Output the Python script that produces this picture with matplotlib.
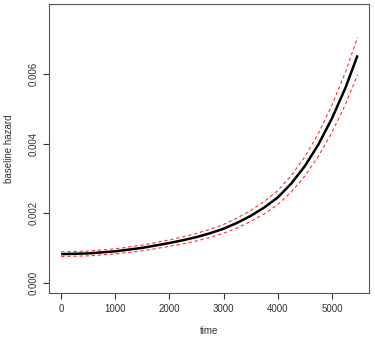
import numpy as np
import matplotlib
matplotlib.use("Agg")
from matplotlib import pyplot as plt

# baseline hazard estimate
time = [0, 250, 500, 750, 1000, 1250, 1500, 1750, 2000, 2250, 2500, 2750,
        3000, 3250, 3500, 3750, 4000, 4250, 4500, 4750, 5000, 5250, 5475]
hazard = [0.00082, 0.00083, 0.00084, 0.00087, 0.00090, 0.00095, 0.00100,
          0.00107, 0.00114, 0.00122, 0.00131, 0.00142, 0.00155, 0.00172,
          0.00192, 0.00216, 0.00245, 0.00285, 0.00335, 0.00397, 0.00472,
          0.00560, 0.00654]
upper = [0.000886, 0.000896, 0.000907, 0.000940, 0.000972, 0.001026, 0.00108,
         0.001156, 0.001231, 0.001318, 0.001415, 0.001534, 0.001674, 0.001858,
         0.002074, 0.002333, 0.002646, 0.003078, 0.003618, 0.004288, 0.005098,
         0.006048, 0.007063]
lower = [0.000750, 0.000759, 0.000769, 0.000796, 0.000824, 0.000869, 0.000915,
         0.000979, 0.001043, 0.001116, 0.001199, 0.001299, 0.001418, 0.001574,
         0.001757, 0.001976, 0.002242, 0.002608, 0.003065, 0.003633, 0.004319,
         0.005124, 0.005984]

xticks = [0, 1000, 2000, 3000, 4000, 5000]
yticks = [0.000, 0.002, 0.004, 0.006]

plt.rcParams['font.family'] = ['Liberation Sans', 'DejaVu Sans']

fig = plt.figure(figsize=(3.75, 3.39), dpi=100)
ax = fig.add_axes([49.3 / 375, (339 - 293.3) / 339, 320 / 375, 289.3 / 339])

ax.plot(time, hazard, color='black', lw=1.8, solid_capstyle='butt')
ax.plot(time, upper, color='#ff3030', lw=0.8, dashes=(3, 2.5))
ax.plot(time, lower, color='#ff3030', lw=0.8, dashes=(3, 2.5))

# R style 4% padding
ax.set_xlim(-219, 5473 + 219)
ax.set_ylim(-0.000308, 0.00771 * 1.04)

ax.set_xticks(xticks)
ax.set_xticklabels([str(t) for t in xticks])
ax.set_yticks(yticks)
ax.set_yticklabels(['%.3f' % v for v in yticks], rotation=90, va='center')

ax.tick_params(direction='out', length=4, width=0.8, colors='#333333',
               labelsize=7, pad=4)
for s in ax.spines.values():
    s.set_color('#555555')
    s.set_linewidth(0.8)

ax.set_xlabel('time', fontsize=7, color='#333333', labelpad=8)
ax.set_ylabel('baseline hazard', fontsize=7, color='#333333', labelpad=10)

fig.savefig('out.png', dpi=100)
